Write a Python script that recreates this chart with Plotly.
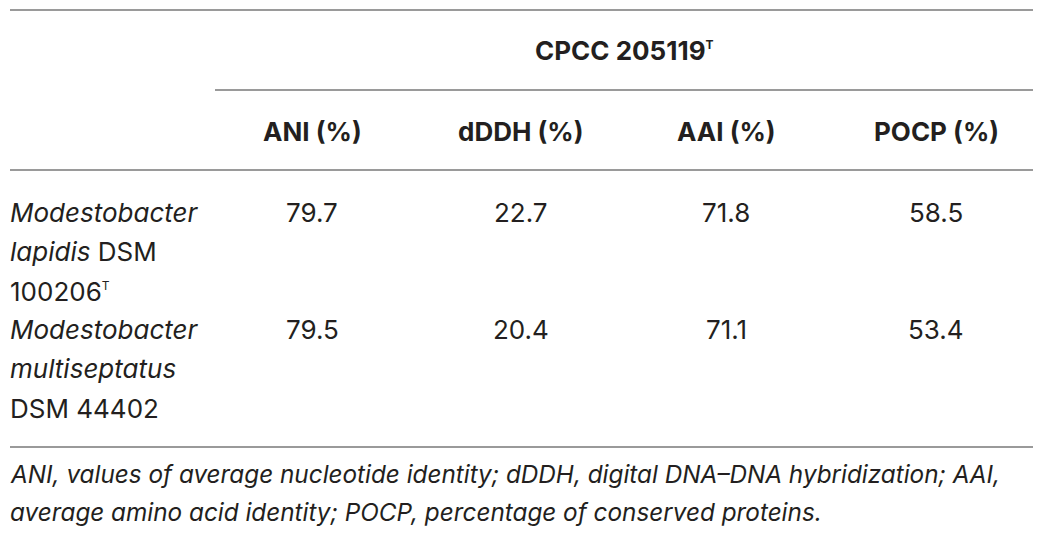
import plotly.graph_objects as go

# Table content
group_header = "CPCC 205119<sup><span style='font-size:12px'>T</span></sup>"
column_headers = ["ANI (%)", "dDDH (%)", "AAI (%)", "POCP (%)"]
row_labels = [
    ["<i>Modestobacter</i>", "<i>lapidis</i> DSM", "100206<sup><span style='font-size:12px'>T</span></sup>"],
    ["<i>Modestobacter</i>", "<i>multiseptatus</i>", "DSM 44402"],
]
ani = [79.7, 79.5]
dddh = [22.7, 20.4]
aai = [71.8, 71.1]
pocp = [58.5, 53.4]
footnote = [
    "<i>ANI, values of average nucleotide identity; dDDH, digital DNA\u2013DNA hybridization; AAI,</i>",
    "<i>average amino acid identity; POCP, percentage of conserved proteins.</i>",
]

W, H = 1043, 541
FONT = "Inter"
TXT = "#231f20"
RULE = "#9a9a9a"

# layout in pixel units (x right, y down)
col_x = [312, 521, 726, 936]
row_y = [212, 329]
line_step = 39.5

fig = go.Figure()
fig.add_trace(go.Scatter(x=[0], y=[0], mode="markers", marker=dict(opacity=0),
                         hoverinfo="skip", showlegend=False))

def text(x, y, s, size=26, anchor="center", bold=False):
    if bold:
        s = "<b>" + s + "</b>"
    fig.add_annotation(x=x, y=y, xref="x", yref="y", text=s, showarrow=False,
                       xanchor=anchor, yanchor="middle",
                       font=dict(family=FONT, size=size, color=TXT))

def rule(x0, x1, y):
    fig.add_shape(type="line", xref="x", yref="y", x0=x0, x1=x1, y0=y, y1=y,
                  line=dict(color=RULE, width=2))

rule(10, 1033, 10)
rule(215, 1033, 90)
rule(10, 1033, 170)
rule(10, 1033, 447)

text(624, 50, group_header, bold=True)
for cx, h in zip(col_x, column_headers):
    text(cx, 131, h, bold=True)

values = [ani, dddh, aai, pocp]
for r, labels in enumerate(row_labels):
    for k, lab in enumerate(labels):
        text(8, row_y[r] + k * line_step, lab, anchor="left")
    for cx, col in zip(col_x, values):
        text(cx, row_y[r], f"{col[r]:.1f}")

for k, line in enumerate(footnote):
    text(8, 474 + k * 38, line, size=24.3, anchor="left")

fig.update_xaxes(range=[0, W], visible=False, fixedrange=True)
fig.update_yaxes(range=[H, 0], visible=False, fixedrange=True)
fig.update_layout(width=W, height=H, margin=dict(l=0, r=0, t=0, b=0),
                  plot_bgcolor="white", paper_bgcolor="white", showlegend=False)

# the page body has a default 8px margin; drop it so the figure sits at 0,0
fig.write_html("out.html", config={"displayModeBar": False},
               post_script="document.body.style.margin='0';")
